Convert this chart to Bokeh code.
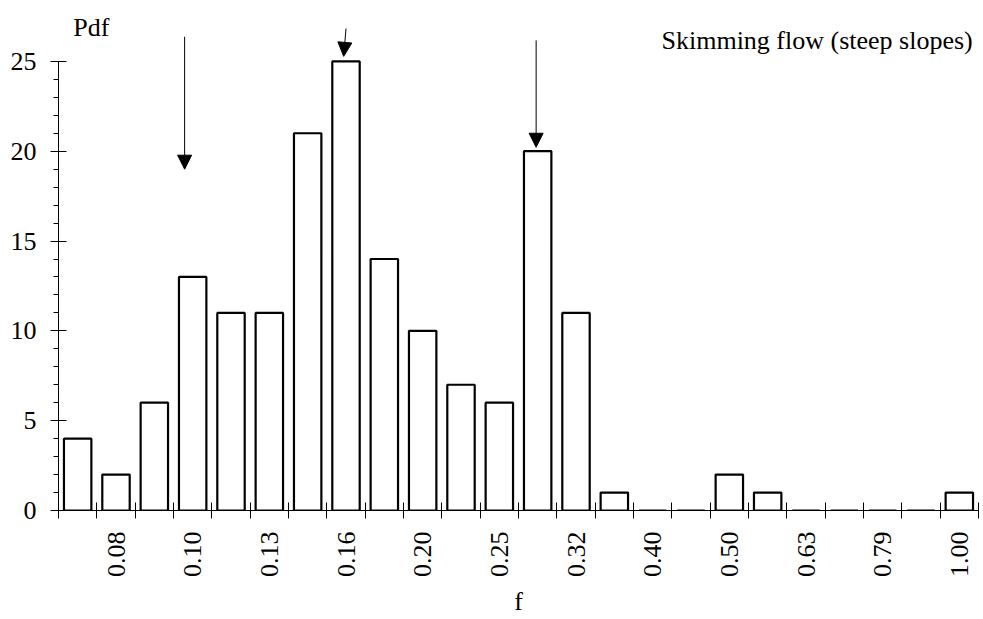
from math import pi
from bokeh.plotting import figure
from bokeh.models import (FixedTicker, SingleIntervalTicker, Range1d, Arrow,
                          NormalHead, Label, ColumnDataSource)
from bokeh.embed import file_html
from bokeh.resources import INLINE

# ---- data ----
bin_labels = ["", "0.08", "", "0.10", "", "0.13", "", "0.16", "", "0.20", "", "0.25",
              "", "0.32", "", "0.40", "", "0.50", "", "0.63", "", "0.79", "", "1.00"]
counts = [4, 2, 6, 13, 11, 11, 21, 25, 14, 10, 7, 6,
          20, 11, 1, 0, 0, 2, 1, 0, 0, 0, 0, 1]
title_text = "Skimming flow (steep slopes)"
y_title = "Pdf"
x_title = "f"
# arrows: (x_start, y_start, x_end, y_end) in bin / Pdf units
arrows = [(3.29, 26.37, 3.29, 19.0),
          (7.50, 26.83, 7.44, 25.28),
          (12.46, 26.17, 12.46, 20.22)]

FONT = "Liberation Serif"
FS = "26px"

n = len(counts)
centers = [i + 0.5 for i in range(n)]
src = ColumnDataSource(dict(x=centers, top=counts))

p = figure(width=983, height=619, output_backend="svg", toolbar_location=None,
           x_range=Range1d(0, n), y_range=Range1d(0, 28),
           min_border_left=58, min_border_right=5, min_border_top=7,
           min_border_bottom=107)
p.outline_line_color = None
p.xgrid.visible = False
p.ygrid.visible = False
p.background_fill_color = "white"

p.vbar(x="x", top="top", width=0.715, source=src, fill_color="white",
       line_color="black", line_width=2.2)

# x axis
lab_pos = [c for c, l in zip(centers, bin_labels) if l]
xa = p.xaxis[0]
xa.ticker = FixedTicker(ticks=lab_pos, minor_ticks=list(range(n + 1)))
xa.major_label_overrides = {c: l for c, l in zip(centers, bin_labels) if l}
xa.major_label_orientation = pi / 2
xa.major_tick_line_color = None
xa.minor_tick_in = 8
xa.minor_tick_out = 8
xa.minor_tick_line_color = "black"
xa.axis_line_color = "black"
xa.major_label_text_font = FONT
xa.major_label_text_font_size = FS
xa.major_label_text_color = "black"
xa.major_label_standoff = 13
xa.axis_label = x_title
xa.axis_label_text_font = FONT
xa.axis_label_text_font_size = FS
xa.axis_label_text_font_style = "normal"
xa.axis_label_text_color = "black"
xa.axis_label_standoff = 7

# y axis
ya = p.yaxis[0]
ya.ticker = SingleIntervalTicker(interval=5, num_minor_ticks=5)
ya.bounds = (0, 25)
ya.major_tick_in = 8
ya.major_tick_out = 8
ya.minor_tick_in = 0
ya.minor_tick_out = 5
ya.major_tick_line_color = "black"
ya.minor_tick_line_color = "black"
ya.axis_line_color = "black"
ya.major_label_text_font = FONT
ya.major_label_text_font_size = FS
ya.major_label_text_color = "black"
ya.major_label_standoff = 14

# texts
p.add_layout(Label(x=0.385, y=26.9, text=y_title, text_font=FONT,
                   text_font_size=FS, text_color="black",
                   text_baseline="alphabetic"))
p.add_layout(Label(x=23.85, y=26.15, text=title_text, text_font=FONT,
                   text_font_size=FS, text_color="black", text_align="right",
                   text_baseline="alphabetic"))

for xs, ys, xe, ye in arrows:
    p.add_layout(Arrow(x_start=xs, y_start=ys, x_end=xe, y_end=ye,
                       line_color="black", line_width=1,
                       end=NormalHead(size=14, fill_color="black",
                                      line_color="black")))

open("out.html", "w").write(file_html(p, INLINE))
